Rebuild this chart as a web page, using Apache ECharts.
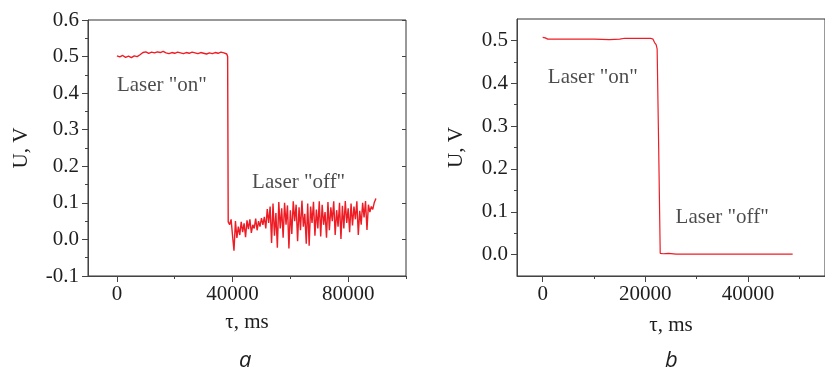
<!DOCTYPE html>
<html lang="en">
<head>
<meta charset="UTF-8">
<title>Laser on / off signal</title>
<style>
    html, body { margin: 0; padding: 0; background: #fff; }
    #chart { width: 825px; height: 367px; }
</style>
<script src="https://cdn.jsdelivr.net/npm/echarts@6.0.0/dist/echarts.min.js"></script>
</head>
<body>
<div id="chart"></div>
<script>
// panel a: time (ms) and signal (V), laser on then off
var timeA = [0, 1000, 2000, 3000, 4000, 5000, 6000, 7000, 8000, 9000,
    10000, 11000, 12000, 13000, 14000, 15000, 16000, 17000, 18000, 19000,
    20000, 21000, 22000, 23000, 24000, 25000, 26000, 27000, 28000, 29000,
    30000, 31000, 32000, 33000, 34000, 35000, 36000, 37000, 38000, 38300,
    38500, 39000, 39500, 40000, 40500, 41000, 41500, 42000, 42500, 43000,
    43500, 44000, 44500, 45000, 45500, 46000, 46500, 47000, 47500, 48000,
    48500, 49000, 49500, 50000, 50500, 51000, 51500, 52000, 52500, 53000,
    53500, 54000, 54500, 55000, 55500, 56000, 56500, 57000, 57500, 58000,
    58500, 59000, 59500, 60000, 60500, 61000, 61500, 62000, 62500, 63000,
    63500, 64000, 64500, 65000, 65500, 66000, 66500, 67000, 67500, 68000,
    68500, 69000, 69500, 70000, 70500, 71000, 71500, 72000, 72500, 73000,
    73500, 74000, 74500, 75000, 75500, 76000, 76500, 77000, 77500, 78000,
    78500, 79000, 79500, 80000, 80500, 81000, 81500, 82000, 82500, 83000,
    83500, 84000, 84500, 85000, 85500, 86000, 86500, 87000, 87500, 88000,
    88500, 89000, 89600];
var voltA = [0.502, 0.499, 0.503, 0.498, 0.501, 0.497, 0.502, 0.500, 0.505, 0.511,
    0.513, 0.509, 0.512, 0.510, 0.513, 0.511, 0.514, 0.510, 0.508, 0.511,
    0.509, 0.512, 0.510, 0.508, 0.511, 0.509, 0.512, 0.510, 0.508, 0.511,
    0.509, 0.507, 0.510, 0.508, 0.511, 0.509, 0.512, 0.510, 0.507, 0.500,
    0.048, 0.040, 0.055, 0.010, -0.031, 0.050, 0.004, 0.035, 0.012, 0.048,
    0.020, 0.044, 0.006, 0.052, 0.028, 0.055, 0.018, 0.040, 0.030, 0.057,
    0.025, 0.050, 0.035, 0.058, 0.040, 0.062, 0.030, 0.083, 0.045, 0.090,
    -0.010, 0.098, 0.010, 0.072, -0.023, 0.102, 0.030, 0.085, 0.005, 0.100,
    0.040, 0.093, -0.025, 0.080, 0.015, 0.104, 0.050, 0.095, -0.005, 0.088,
    0.025, 0.106, 0.035, 0.070, -0.012, 0.098, -0.017, 0.090, 0.045, 0.103,
    0.010, 0.082, 0.030, 0.104, 0.008, 0.095, 0.040, 0.075, 0.005, 0.102,
    0.025, 0.088, 0.050, 0.104, 0.012, 0.080, 0.035, 0.100, 0.001, 0.092,
    0.030, 0.105, 0.045, 0.085, 0.020, 0.098, 0.038, 0.090, 0.055, 0.104,
    0.012, 0.078, 0.040, 0.100, 0.060, 0.105, 0.026, 0.095, 0.075, 0.090,
    0.082, 0.100, 0.112];

// panel b
var timeB = [0, 500, 1000, 5000, 10000, 13000, 15000, 16000, 20000, 21000,
    21500, 21800, 22100, 22300, 22600, 22900, 23500, 24500, 26000, 48700];
var voltB = [0.507, 0.506, 0.503, 0.503, 0.503, 0.502, 0.503, 0.505, 0.505, 0.505,
    0.503, 0.495, 0.490, 0.480, 0.250, 0.003, 0.002, 0.003, 0.001, 0.001];

// tick positions
var xLabelsA = [0, 40000, 80000];
var xMinorA = [20000, 60000, 100000];
var xLabelsB = [0, 20000, 40000];
var xMinorB = [10000, 30000, 50000];
var yLabelsB = [0, 0.1, 0.2, 0.3, 0.4, 0.5];
var yMinorB = [0.05, 0.15, 0.25, 0.35, 0.45];

var chart = echarts.init(document.getElementById('chart'));

var serif = 'Liberation Serif';
var ink = '#1e1e1e';
var axisColor = '#444';
var red = '#ee1c24';

function pairs(xs, ys) {
    var out = [];
    for (var i = 0; i < xs.length; i++) out.push([xs[i], ys[i]]);
    return out;
}

function labelStyle() {
    return { fontFamily: serif, fontSize: 21, color: ink };
}

// x axis with labels + major ticks
function xMain(grid, min, max, labels, gap) {
    return {
        type: 'value', gridIndex: grid, min: min, max: max, position: 'bottom',
        name: 'τ, ms', nameLocation: 'middle', nameGap: gap,
        nameTextStyle: labelStyle(),
        axisLine: { show: true, onZero: false, lineStyle: { color: axisColor } },
        axisTick: { show: true, length: 6, customValues: labels, lineStyle: { color: axisColor } },
        axisLabel: Object.assign({ customValues: labels, margin: 8,
            formatter: function (v) { return String(v); } }, labelStyle()),
        splitLine: { show: false }
    };
}

// extra x axis only for the small ticks
function xMinor(grid, min, max, ticks) {
    return {
        type: 'value', gridIndex: grid, min: min, max: max, position: 'bottom', offset: 0,
        axisLine: { show: false, onZero: false },
        axisTick: { show: true, length: 3, customValues: ticks, lineStyle: { color: axisColor } },
        axisLabel: { show: false },
        splitLine: { show: false }
    };
}

function noteLabel() {
    return Object.assign({ show: true, position: 'insideLeft', distance: 0, formatter: '{b}',
        textBorderWidth: 0 }, labelStyle());
}

var captionStyle = { fontFamily: 'Open Sans', fontStyle: 'italic', fontWeight: 'normal', fontSize: 22, color: ink };

var option = {
    animation: false,
    backgroundColor: '#fff',
    title: [
        { text: 'a', left: 239, top: 350, padding: 0, textStyle: captionStyle },
        { text: 'b', left: 665, top: 350, padding: 0, textStyle: captionStyle }
    ],
    grid: [
        { left: 88, top: 20, width: 318, height: 256, show: true, borderColor: '#333', borderWidth: 1 },
        { left: 517, top: 19, width: 318, height: 257, show: true, borderColor: '#333', borderWidth: 1 }
    ],
    xAxis: [
        xMain(0, -10000, 100000, xLabelsA, 36),
        xMinor(0, -10000, 100000, xMinorA),
        xMain(1, -5000, 55000, xLabelsB, 39),
        xMinor(1, -5000, 55000, xMinorB)
    ],
    yAxis: [
        {
            type: 'value', gridIndex: 0, min: -0.1, max: 0.6, interval: 0.1,
            name: 'U, V', nameLocation: 'middle', nameGap: 56, nameTextStyle: labelStyle(),
            axisLine: { show: true, onZero: false, lineStyle: { color: axisColor } },
            axisTick: { show: true, length: 6, lineStyle: { color: axisColor } },
            minorTick: { show: true, splitNumber: 2, length: 3, lineStyle: { color: axisColor } },
            axisLabel: Object.assign({ margin: 9, formatter: function (v) { return v.toFixed(1); } }, labelStyle()),
            splitLine: { show: false }
        },
        {
            // right frame ticks of panel a
            type: 'value', gridIndex: 0, min: -0.1, max: 0.6, interval: 0.1, position: 'right',
            axisLine: { show: false, onZero: false },
            axisTick: { show: true, inside: true, length: 4, lineStyle: { color: axisColor } },
            axisLabel: { show: false },
            splitLine: { show: false }
        },
        {
            type: 'value', gridIndex: 1, min: -0.05, max: 0.55,
            name: 'U, V', nameLocation: 'middle', nameGap: 50, nameTextStyle: labelStyle(),
            axisLine: { show: true, onZero: false, lineStyle: { color: axisColor } },
            axisTick: { show: true, length: 6, customValues: yLabelsB, lineStyle: { color: axisColor } },
            axisLabel: Object.assign({ margin: 9, customValues: yLabelsB,
                formatter: function (v) { return v.toFixed(1); } }, labelStyle()),
            splitLine: { show: false }
        },
        {
            type: 'value', gridIndex: 1, min: -0.05, max: 0.55, position: 'left', offset: 0,
            axisLine: { show: false, onZero: false },
            axisTick: { show: true, length: 3, customValues: yMinorB, lineStyle: { color: axisColor } },
            axisLabel: { show: false },
            splitLine: { show: false }
        }
    ],
    series: [
        {
            type: 'line', xAxisIndex: 0, yAxisIndex: 0, data: pairs(timeA, voltA),
            symbol: 'none', lineStyle: { color: red, width: 1.4 }
        },
        {
            type: 'line', xAxisIndex: 2, yAxisIndex: 2, data: pairs(timeB, voltB),
            symbol: 'none', lineStyle: { color: red, width: 1.2 }
        },
        {
            // text notes placed in data coordinates
            type: 'scatter', xAxisIndex: 0, yAxisIndex: 0, symbolSize: 0, silent: true,
            data: [{ name: 'Laser "on"', value: [0, 0.42] }, { name: 'Laser "off"', value: [46750, 0.157] }],
            label: noteLabel()
        },
        {
            type: 'scatter', xAxisIndex: 2, yAxisIndex: 2, symbolSize: 0, silent: true,
            data: [{ name: 'Laser "on"', value: [1000, 0.414] }, { name: 'Laser "off"', value: [25900, 0.0855] }],
            label: noteLabel()
        }
    ]
};

chart.setOption(option);
</script>
</body>
</html>
